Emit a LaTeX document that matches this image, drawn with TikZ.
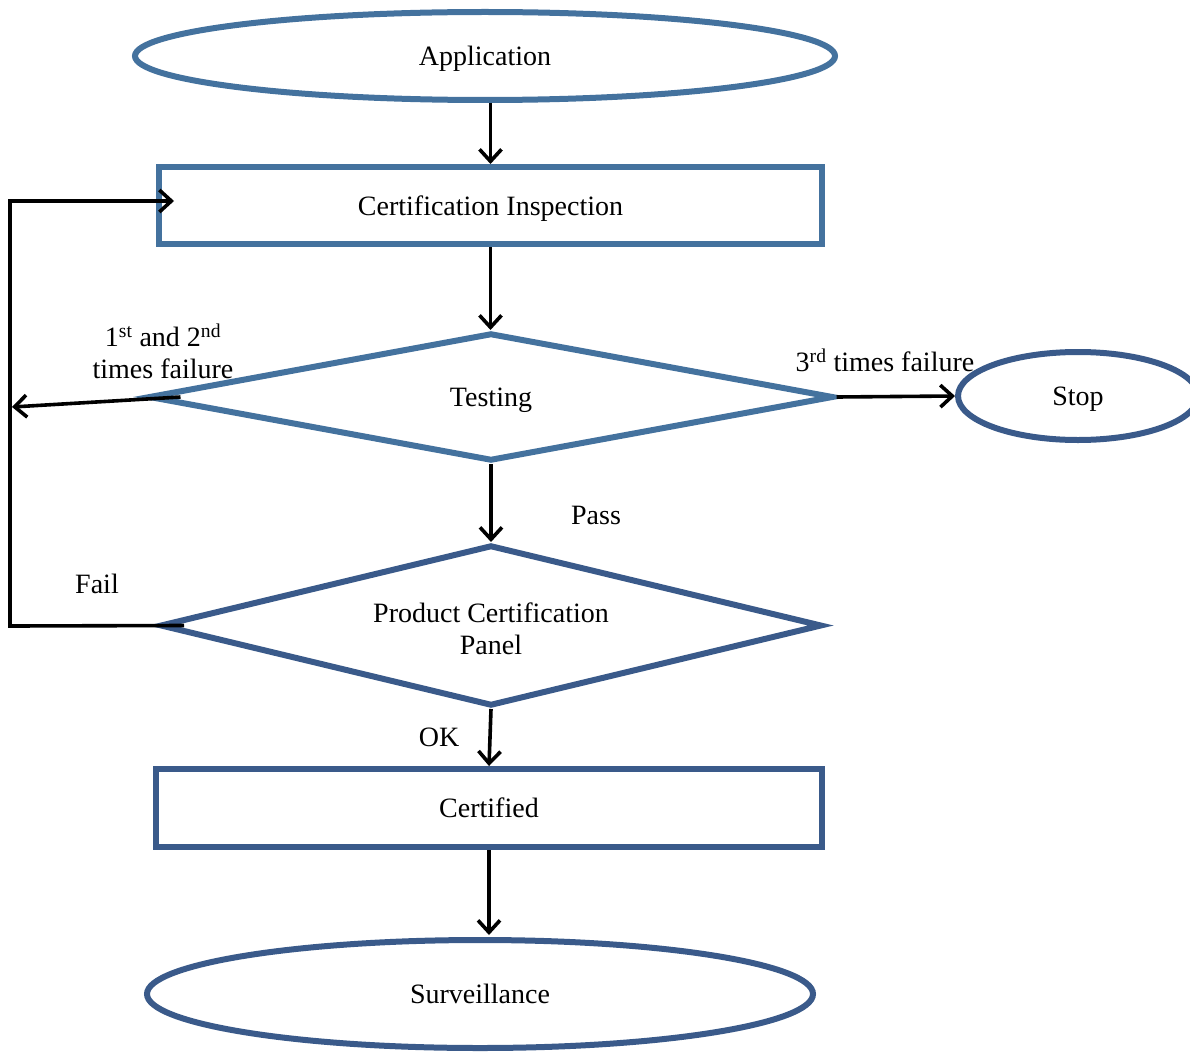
\documentclass[tikz,border=0pt]{standalone}
\usepackage{fontspec}
\setmainfont{Liberation Serif}
\usetikzlibrary{shapes.geometric,arrows.meta,calc}
\definecolor{blueA}{RGB}{68,114,158}
\definecolor{blueB}{RGB}{58,90,138}
\begin{document}
\begin{tikzpicture}[x=1pt,y=-1pt,
  every node/.style={font=\fontsize{28}{32}\selectfont},
  shapeline/.style={line width=6pt,inner sep=0pt,align=center,text depth=0pt},
  ell/.style={shapeline,ellipse},
  boxnode/.style={shapeline,rectangle},
  dia/.style={shapeline,diamond},
  arr/.style={line width=3.6pt,-{Straight Barb[length=12pt,width=22pt,line width=3.6pt]}},
  conn/.style={line width=3.6pt},
  lbl/.style={inner sep=0pt,align=center}]
\useasboundingbox (0,0) rectangle (1190,1051);
\node[ell,draw=blueA,minimum width=700pt,minimum height=88pt] (app) at (485,56) {Application};
\node[boxnode,draw=blueA,minimum width=663pt,minimum height=77pt] (ci) at (490.5,205.5) {Certification Inspection};
\node[dia,draw=blueA,minimum width=685pt,minimum height=128pt] (test) at (491,397) {Testing};
\node[ell,draw=blueB,minimum width=240pt,minimum height=88pt] (stop) at (1078,396) {Stop};
\node[dia,draw=blueB,minimum width=662pt,minimum height=161pt] (pcp) at (491,625.5) {\phantom{X}};
\node[lbl] (pcptxt) at (491,629) {Product Certification\\Panel};
\node[boxnode,draw=blueB,minimum width=666pt,minimum height=78pt] (cert) at (489,808) {Certified};
\node[ell,draw=blueB,minimum width=666pt,minimum height=108pt] (surv) at (480,994) {Surveillance};
% labels
\node[lbl] (l12) at (163,351) {1\textsuperscript{st} and 2\textsuperscript{nd}\\times failure};
\node[lbl] (l3) at (885,360) {3\textsuperscript{rd} times failure};
\node[lbl] (lpass) at (596,515) {Pass};
\node[lbl] (lfail) at (97,584) {Fail};
\node[lbl] (lok) at (439,737) {OK};
% coordinates
\coordinate (ltop) at (10,201);
\coordinate (lbot) at (10,626);
\coordinate (lmid) at (12,407);
% connectors
\draw[arr] (ci.north |- app.south) -- (ci.north);
\draw[arr] (ci.south) -- (ci.south |- test.north);
\draw[arr] (test.east) -- (stop.west);
\draw[arr] ([xshift=35pt]test.west) -- (lmid);
\draw[arr] (test.south) -- (test.south |- pcp.north);
\draw[arr] ([xshift=27pt]pcp.west) -- (lbot) -- (ltop) -- ($(ci.west)+(18,-4.5)$);
\draw[arr] (pcp.south) -- (cert.north);
\draw[arr] (cert.south) -- ($(cert.south |- surv.north)+(0,-2)$);
\end{tikzpicture}
\end{document}
